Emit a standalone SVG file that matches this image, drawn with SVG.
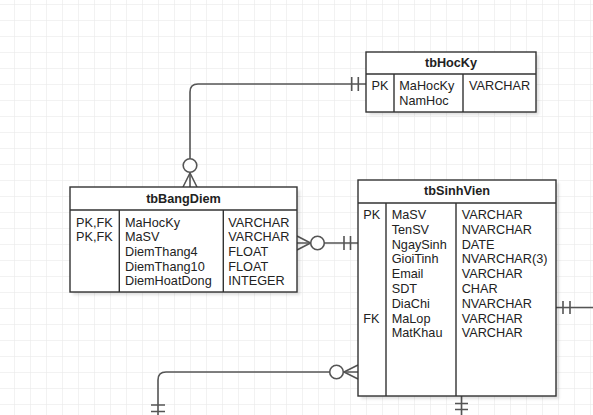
<svg xmlns="http://www.w3.org/2000/svg" width="593" height="415" viewBox="0 0 593 415">
<style>
.box{fill:#fff;stroke:#333;stroke-width:1.4}
.div{stroke:#333;stroke-width:1.4;fill:none}
.t{font-family:"Liberation Sans",Arial,sans-serif;font-size:12.7px;fill:#222}
.h{font-family:"Liberation Sans",Arial,sans-serif;font-size:12.7px;font-weight:bold;fill:#222;text-anchor:middle}
.c{stroke:#555;stroke-width:1.6;fill:none}
.o{stroke:#555;stroke-width:1.6;fill:#fff}
.sh{fill:#000;opacity:0.12;filter:url(#blur)}
</style>
<defs>
<pattern id="grid" x="14" y="4" width="16" height="16" patternUnits="userSpaceOnUse">
<path d="M0,0 H16 M0,0 V16" stroke="#e6e6e6" stroke-width="1" fill="none"/>
</pattern>
<filter id="blur" x="-10%" y="-10%" width="120%" height="120%"><feGaussianBlur stdDeviation="1.8"/></filter>
</defs>
<rect width="593" height="415" fill="#fff"/>
<rect width="593" height="415" fill="url(#grid)"/>

<g id="connectors">
<path class="c" d="M366,84 H198 Q190,84 190,92 V187"/>
<path class="c" d="M351.7,77 V91 M358.3,77 V91"/>
<path class="c" d="M190,173 L183,187 M190,173 L197,187"/>
<circle class="o" cx="190" cy="165.5" r="6.8"/>

<path class="c" d="M297,243 H358"/>
<path class="c" d="M310.5,243 L297,236 M310.5,243 L297,250"/>
<circle class="o" cx="317.5" cy="243" r="6.8"/>
<path class="c" d="M344,236 V250 M350.5,236 V250"/>

<path class="c" d="M556,307.5 H593"/>
<path class="c" d="M563,301 V314 M570,301 V314"/>

<path class="c" d="M358,372 H166 Q158,372 158,380 V415"/>
<path class="c" d="M344,372 L358,365 M344,372 L358,379"/>
<circle class="o" cx="336.5" cy="372" r="6.8"/>
<path class="c" d="M151,405 H165 M151,411.5 H165"/>

<path class="c" d="M461.5,396 V415"/>
<path class="c" d="M455,403.5 H468 M455,409.5 H468"/>
</g>

<g id="tbHocKy">
<rect class="sh" x="369" y="55" width="170" height="60"/>
<rect class="box" x="366" y="52" width="170" height="60"/>
<path class="div" d="M366,74 H536 M394,74 V112 M463,74 V112"/>
<text class="h" x="451" y="66.5">tbHocKy</text>
<text class="t" x="371.5" y="90.3">PK</text>
<text class="t" x="399.3" y="90.3">MaHocKy</text>
<text class="t" x="399.3" y="105">NamHoc</text>
<text class="t" x="469" y="90.3">VARCHAR</text>
</g>

<g id="tbBangDiem">
<rect class="sh" x="73" y="190" width="227" height="105"/>
<rect class="box" x="70" y="187" width="227" height="105"/>
<path class="div" d="M70,210 H297 M119.3,210 V292 M223.3,210 V292"/>
<text class="h" x="183.5" y="203.3">tbBangDiem</text>
<text class="t" x="76" y="226.6">PK,FK</text>
<text class="t" x="76" y="241.3">PK,FK</text>
<text class="t" x="125" y="226.6">MaHocKy</text>
<text class="t" x="125" y="241.3">MaSV</text>
<text class="t" x="125" y="256">DiemThang4</text>
<text class="t" x="125" y="270.7">DiemThang10</text>
<text class="t" x="125" y="285.4">DiemHoatDong</text>
<text class="t" x="228.3" y="226.6">VARCHAR</text>
<text class="t" x="228.3" y="241.3">VARCHAR</text>
<text class="t" x="228.3" y="256">FLOAT</text>
<text class="t" x="228.3" y="270.7">FLOAT</text>
<text class="t" x="228.3" y="285.4">INTEGER</text>
</g>

<g id="tbSinhVien">
<rect class="sh" x="361" y="183" width="198" height="216"/>
<rect class="box" x="358" y="180" width="198" height="216"/>
<path class="div" d="M358,203 H556 M386,203 V396 M456,203 V396"/>
<text class="h" x="457" y="195">tbSinhVien</text>
<text class="t" x="363.3" y="219">PK</text>
<text class="t" x="363.3" y="322.6">FK</text>
<text class="t" x="391.7" y="219">MaSV</text>
<text class="t" x="391.7" y="233.8">TenSV</text>
<text class="t" x="391.7" y="248.6">NgaySinh</text>
<text class="t" x="391.7" y="263.4">GioiTinh</text>
<text class="t" x="391.7" y="278.2">Email</text>
<text class="t" x="391.7" y="293">SDT</text>
<text class="t" x="391.7" y="307.8">DiaChi</text>
<text class="t" x="391.7" y="322.6">MaLop</text>
<text class="t" x="391.7" y="337.4">MatKhau</text>
<text class="t" x="461.7" y="219">VARCHAR</text>
<text class="t" x="461.7" y="233.8">NVARCHAR</text>
<text class="t" x="461.7" y="248.6">DATE</text>
<text class="t" x="461.7" y="263.4">NVARCHAR(3)</text>
<text class="t" x="461.7" y="278.2">VARCHAR</text>
<text class="t" x="461.7" y="293">CHAR</text>
<text class="t" x="461.7" y="307.8">NVARCHAR</text>
<text class="t" x="461.7" y="322.6">VARCHAR</text>
<text class="t" x="461.7" y="337.4">VARCHAR</text>
</g>
</svg>
